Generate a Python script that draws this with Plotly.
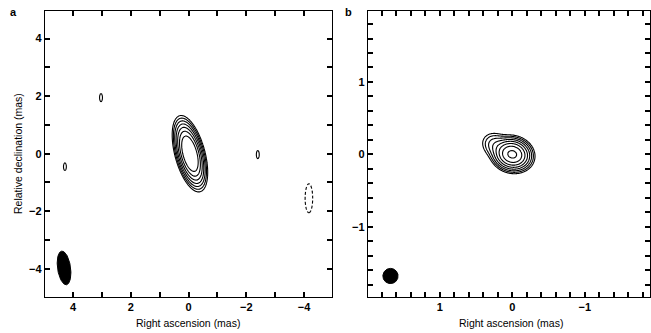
import numpy as np
import plotly.graph_objects as go

# ---------------------------------------------------------------
# Gaussian model components (positions and sizes in mas, PA in deg
# measured north through east, flux relative to the peak)
# ---------------------------------------------------------------
# panel a
A_X = [-0.05, 3.03, 4.28, -2.40, -4.17]
A_Y = [0.00, 1.95, -0.45, -0.03, -1.55]
A_FLUX = [1.0, 0.0083, 0.0083, 0.0083, -0.0083]
A_MAJ = [0.42, 0.14, 0.13, 0.14, 0.50]     # sigma along major axis
A_MIN = [0.16, 0.05, 0.05, 0.05, 0.13]     # sigma along minor axis
A_PA = [15.0, 0.0, 0.0, 0.0, 0.0]
A_LOWEST = 0.005          # lowest contour, levels rise by factors of 2
A_NLEV = 7
A_BEAM = dict(x=4.31, y=-3.97, major=1.18, minor=0.45, pa=8.0)   # FWHM

# panel b
B_X = [0.00, 0.22]
B_Y = [0.00, 0.12]
B_FLUX = [1.0, 0.045]
B_MAJ = [0.10, 0.10]
B_MIN = [0.083, 0.08]
B_PA = [75.0, 60.0]
B_LOWEST = 0.0065
B_NLEV = 8
B_BEAM = dict(x=1.68, y=-1.68, major=0.21, minor=0.21, pa=0.0)

# tick marks (every mark) and the labelled subset
A_TICKS = [-5, -4, -3, -2, -1, 0, 1, 2, 3, 4, 5]
A_LABELS = [-4, -2, 0, 2, 4]
B_TICKS = [-1.8, -1.6, -1.4, -1.2, -1.0, -0.8, -0.6, -0.4, -0.2, 0.0,
           0.2, 0.4, 0.6, 0.8, 1.0, 1.2, 1.4, 1.6, 1.8]
B_LABELS = [-1, 0, 1]

FONT = "Liberation Sans, Arial, Helvetica, sans-serif"
W, H = 651, 333


def model_image(xs, ys, xc, yc, flux, smaj, smin, pa):
    gx, gy = np.meshgrid(xs, ys)
    img = np.zeros_like(gx)
    for x0, y0, f, a, b, p in zip(xc, yc, flux, smaj, smin, pa):
        t = np.radians(p)
        dx, dy = gx - x0, gy - y0
        u = dx * np.sin(t) + dy * np.cos(t)
        v = dx * np.cos(t) - dy * np.sin(t)
        img += f * np.exp(-0.5 * (u ** 2 / a ** 2 + v ** 2 / b ** 2))
    return img


def beam_outline(beam, n=120):
    t = np.linspace(0, 2 * np.pi, n)
    p = np.radians(beam["pa"])
    a, b = beam["major"] / 2, beam["minor"] / 2
    mx, my = np.sin(p), np.cos(p)
    nx, ny = np.cos(p), -np.sin(p)
    x = beam["x"] + a * np.cos(t) * mx + b * np.sin(t) * nx
    y = beam["y"] + a * np.cos(t) * my + b * np.sin(t) * ny
    return x, y


def contour_traces(xs, ys, img, lowest, nlev, xa, ya):
    pos = np.log2(np.maximum(img, 1e-12) / lowest).astype(np.float32)
    neg = np.log2(np.maximum(-img, 1e-12) / lowest).astype(np.float32)
    common = dict(x=xs.astype(np.float32), y=ys.astype(np.float32),
                  xaxis=xa, yaxis=ya, showscale=False, hoverinfo="skip")
    return [
        go.Contour(z=pos, contours=dict(start=0, end=nlev - 1, size=1,
                                        coloring="none"),
                   line=dict(color="black", width=1.1), **common),
        go.Contour(z=neg, contours=dict(start=0, end=0.5, size=1,
                                        coloring="none"),
                   line=dict(color="black", width=1.1, dash="3px,2px"),
                   **common),
    ]


fig = go.Figure()

# panel a
xa = np.linspace(-5, 5, 501)
ya = np.linspace(-5, 5, 501)
img_a = model_image(xa, ya, A_X, A_Y, A_FLUX, A_MAJ, A_MIN, A_PA)
for tr in contour_traces(xa, ya, img_a, A_LOWEST, A_NLEV, "x", "y"):
    fig.add_trace(tr)
bx, by = beam_outline(A_BEAM)
fig.add_trace(go.Scatter(x=bx, y=by, mode="lines", fill="toself",
                         fillcolor="black", line=dict(color="black", width=1),
                         xaxis="x", yaxis="y", hoverinfo="skip",
                         showlegend=False))

# panel b
xb = np.linspace(-2, 2, 501)
yb = np.linspace(-2, 2, 501)
img_b = model_image(xb, yb, B_X, B_Y, B_FLUX, B_MAJ, B_MIN, B_PA)
for tr in contour_traces(xb, yb, img_b, B_LOWEST, B_NLEV, "x2", "y2"):
    fig.add_trace(tr)
bx, by = beam_outline(B_BEAM)
fig.add_trace(go.Scatter(x=bx, y=by, mode="lines", fill="toself",
                         fillcolor="black", line=dict(color="black", width=1),
                         xaxis="x2", yaxis="y2", hoverinfo="skip",
                         showlegend=False))

y_dom = [1 - 297 / H, 1 - 11 / H]


def tick_text(ticks, labels):
    out = []
    for t in ticks:
        hit = [l for l in labels if abs(l - t) < 1e-9]
        out.append(("\u2212%g" % -hit[0] if hit[0] < 0 else "%g" % hit[0])
                   if hit else "")
    return out


def axis(domain, rng, ticks, labels, anchor):
    return dict(domain=domain, range=rng, anchor=anchor,
                tickmode="array", tickvals=ticks,
                ticktext=tick_text(ticks, labels),
                ticks="inside", ticklen=5, tickwidth=1.6, tickcolor="black",
                showline=True, linecolor="black", linewidth=1.4,
                mirror="ticks", showgrid=False, zeroline=False,
                layer="above traces",
                tickfont=dict(family=FONT, size=11, color="black",
                              weight="bold"))


fig.update_layout(
    width=W, height=H,
    margin=dict(l=0, r=0, t=0, b=0),
    paper_bgcolor="white", plot_bgcolor="white",
    showlegend=False,
    xaxis=axis([45 / W, 332 / W], [4.97, -4.97], A_TICKS, A_LABELS, "y"),
    yaxis=axis(y_dom, [-4.98, 4.96], A_TICKS, A_LABELS, "x"),
    xaxis2=axis([368 / W, 650 / W], [1.99, -1.9], B_TICKS, B_LABELS, "y2"),
    yaxis2=axis(y_dom, [-1.97, 1.98], B_TICKS, B_LABELS, "x2"),
)

title_font = dict(family=FONT, size=10.5, color="black")
fig.add_annotation(text="Right ascension (mas)", xref="paper", yref="paper",
                   x=188 / W, y=1 - 323 / H, showarrow=False, font=title_font,
                   xanchor="center", yanchor="middle")
fig.add_annotation(text="Right ascension (mas)", xref="paper", yref="paper",
                   x=511 / W, y=1 - 323 / H, showarrow=False, font=title_font,
                   xanchor="center", yanchor="middle")
fig.add_annotation(text="Relative declination (mas)", xref="paper",
                   yref="paper", x=18 / W, y=1 - 154 / H, textangle=-90,
                   showarrow=False, font=title_font,
                   xanchor="center", yanchor="middle")

label_font = dict(family=FONT, size=11, color="black", weight="bold")
fig.add_annotation(text="a", xref="paper", yref="paper", x=13 / W,
                   y=1 - 12 / H, showarrow=False, font=label_font,
                   xanchor="center", yanchor="middle")
fig.add_annotation(text="b", xref="paper", yref="paper", x=348 / W,
                   y=1 - 12 / H, showarrow=False, font=label_font,
                   xanchor="center", yanchor="middle")

fig.write_html("out.html")
